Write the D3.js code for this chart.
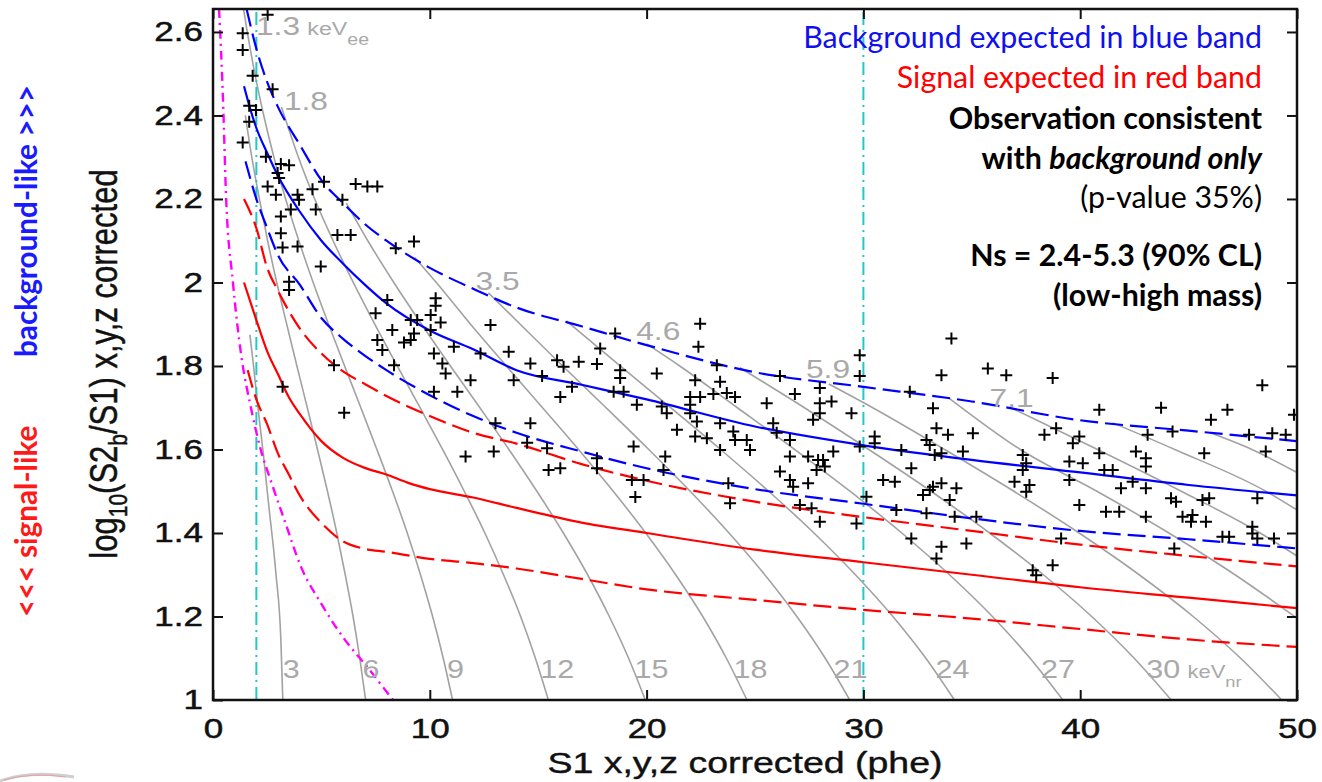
<!DOCTYPE html>
<html>
<head>
<meta charset="utf-8">
<script src="https://cdn.jsdelivr.net/npm/d3@7"></script>
<style>
  body { margin: 0; background: #fff; }
</style>
</head>
<body>
<svg id="chart" width="1322" height="782" font-family="Liberation Sans, Arial, sans-serif"></svg>
<script>
// ---- data (S1 in phe, log10(S2b/S1)) ----
const xTicks = [0, 10, 20, 30, 40, 50];
const yTicks = [1, 1.2, 1.4, 1.6, 1.8, 2, 2.2, 2.4, 2.6];

const blueUpper = [[1.55,2.655],[2,2.56],[2.5,2.48],[3,2.42],[4,2.33],[5,2.245],[6,2.19],[7,2.14],[8,2.10],[10,2.035],[12,1.985],[14,1.94],[17,1.895],[20,1.85],[25,1.785],[30,1.75],[35,1.715],[40,1.67],[45,1.645],[50,1.62]];
const blueMedian = [[1.43,2.47],[1.75,2.41],[2,2.37],[2.5,2.31],[3,2.255],[4,2.17],[5,2.10],[6,2.045],[7,1.995],[8,1.95],[10,1.885],[12,1.84],[14,1.79],[17,1.755],[20,1.72],[25,1.655],[30,1.61],[35,1.575],[40,1.545],[45,1.515],[50,1.49]];
const blueLower = [[1.5,2.29],[2,2.20],[2.5,2.13],[3,2.065],[4,1.995],[5,1.915],[6,1.865],[7,1.825],[8,1.79],[10,1.73],[12,1.68],[14,1.64],[17,1.595],[20,1.555],[25,1.505],[30,1.47],[35,1.435],[40,1.405],[45,1.385],[50,1.363]];

const redUpper = [[1.43,2.20],[2,2.13],[2.5,2.035],[3,1.98],[4,1.89],[5,1.83],[6,1.787],[7,1.757],[8,1.728],[10,1.68],[12,1.64],[14,1.614],[17,1.565],[20,1.525],[25,1.475],[30,1.438],[35,1.405],[40,1.372],[45,1.345],[50,1.32]];
const redMedian = [[1.43,2.00],[2,1.91],[2.5,1.835],[3,1.78],[3.5,1.725],[4,1.685],[4.5,1.65],[5,1.62],[6,1.58],[7,1.556],[8,1.54],[9,1.52],[10,1.505],[12,1.485],[14,1.46],[17,1.425],[20,1.40],[25,1.36],[30,1.33],[35,1.30],[40,1.27],[45,1.245],[50,1.22]];
const redLower = [[1.6,1.79],[2,1.72],[2.5,1.66],[3,1.59],[3.5,1.54],[4,1.49],[5,1.424],[6,1.38],[7,1.362],[8,1.355],[10,1.338],[12,1.328],[14,1.315],[17,1.29],[20,1.265],[25,1.24],[30,1.216],[35,1.195],[40,1.17],[45,1.145],[50,1.127]];

const magentaCut = [[0.28,2.655],[0.46,2.44],[0.6,2.21],[0.92,2.0],[1.29,1.83],[1.75,1.70],[2.2,1.60],[2.7,1.52],[3.3,1.43],[4.05,1.32],[5.0,1.23],[6.0,1.15],[7.1,1.08],[8.3,1.0]];
const s1Window = [2, 30];

const contourNr = [3, 6, 9, 12, 15, 18, 21, 24, 27, 30, 33, 36, 39, 42, 45];
const contourPts = [
  [[1.70,1.875],[1.84,1.814],[2.07,1.702],[2.30,1.599],[2.58,1.462],[2.90,1.304],[3.13,1.144],[3.22,1.0]],
  [[1.49,2.4],[1.79,2.3],[2.14,2.2],[2.52,2.1],[2.94,2.0],[3.40,1.9],[3.87,1.8],[4.35,1.7],[4.82,1.6],[5.28,1.5],[5.71,1.4],[6.10,1.3],[6.46,1.2],[6.77,1.1],[7.04,1.0]],
  [[1.41,2.655],[1.58,2.6],[1.93,2.5],[2.34,2.4],[2.81,2.3],[3.35,2.2],[3.96,2.1],[4.62,2.0],[5.33,1.9],[6.07,1.8],[6.82,1.7],[7.56,1.6],[8.28,1.5],[8.96,1.4],[9.57,1.3],[10.13,1.2],[10.62,1.1],[11.05,1.0]],
  [[3.16,2.42],[3.94,2.3],[4.69,2.2],[5.54,2.1],[6.47,2.0],[7.46,1.9],[8.50,1.8],[9.55,1.7],[10.59,1.6],[11.59,1.5],[12.54,1.4],[13.40,1.3],[14.19,1.2],[14.87,1.1],[15.47,1.0]],
  [[6.15,2.19],[7.14,2.1],[8.34,2.0],[9.62,1.9],[10.95,1.8],[12.31,1.7],[13.65,1.6],[14.94,1.5],[16.16,1.4],[17.28,1.3],[18.28,1.2],[19.17,1.1],[19.94,1.0]],
  [[9.3,2.06],[10.30,2.0],[11.88,1.9],[13.53,1.8],[15.20,1.7],[16.86,1.6],[18.46,1.5],[19.96,1.4],[21.34,1.3],[22.59,1.2],[23.68,1.1],[24.63,1.0]],
  [[12.7,1.975],[14.17,1.9],[16.13,1.8],[18.13,1.7],[20.10,1.6],[22.01,1.5],[23.80,1.4],[25.45,1.3],[26.93,1.2],[28.24,1.1],[29.37,1.0]],
  [[16.3,1.908],[18.78,1.8],[21.11,1.7],[23.41,1.6],[25.63,1.5],[27.72,1.4],[29.63,1.3],[31.36,1.2],[32.88,1.1],[34.2,1.0]],
  [[20.0,1.853],[21.53,1.8],[24.19,1.7],[26.83,1.6],[29.38,1.5],[31.77,1.4],[33.97,1.3],[35.95,1.2],[37.69,1.1],[39.2,1.0]],
  [[24.3,1.796],[27.28,1.7],[30.25,1.6],[33.12,1.5],[35.82,1.4],[38.30,1.3],[40.53,1.2],[42.49,1.1],[44.2,1.0]],
  [[28.4,1.757],[30.43,1.7],[33.75,1.6],[36.94,1.5],[39.95,1.4],[42.72,1.3],[45.21,1.2],[47.40,1.1],[49.3,1.0]],
  [[33.9,1.725],[37.24,1.6],[40.77,1.5],[44.09,1.4],[47.14,1.3],[50,1.196]],
  [[36.8,1.70],[40.80,1.6],[44.66,1.5],[48.30,1.4],[50,1.345]],
  [[41.5,1.664],[44.36,1.6],[48.56,1.5],[50,1.455]],
  [[46.0,1.64],[47.92,1.6],[50,1.545]]
];

// keVee labels and where they sit (S1, log10 ratio at baseline)
const eeLabels = ["1.3", "1.8", "3.5", "4.6", "5.9", "7.1"];
const eeLabelAt = [[1.98,2.593],[3.27,2.413],[12.11,1.982],[19.52,1.862],[27.35,1.771],[35.82,1.702]];
const nrLabeled = [3, 6, 9, 12, 15, 18, 21, 24, 27, 30];

const events = [
  [2.52,2.641],[1.37,2.597],[1.37,2.557],[1.83,2.495],[2.75,2.463],[1.67,2.423],[1.98,2.413],[1.67,2.385],[1.37,2.335],[2.44,2.301],
  [3.13,2.284],[3.51,2.281],[2.98,2.262],[3.05,2.250],[2.52,2.230],[2.90,2.210],[3.90,2.210],[3.97,2.198],[4.59,2.223],[5.12,2.241],
  [3.59,2.175],[4.74,2.175],[3.13,2.158],[5.97,2.198],[6.58,2.236],[7.12,2.230],[7.58,2.230],[3.13,2.118],[5.74,2.114],[6.35,2.114],
  [3.21,2.084],[3.90,2.086],[8.43,2.082],[9.27,2.098],[4.97,2.038],[3.51,2.002],[3.51,1.982],[8.04,1.958],[10.27,1.962],[10.27,1.944],
  [7.50,1.926],[10.04,1.922],[9.12,1.910],[9.42,1.910],[10.50,1.904],[12.80,1.898],[8.27,1.886],[10.04,1.886],[9.27,1.878],[7.58,1.862],
  [8.81,1.856],[9.12,1.862],[7.81,1.838],[10.19,1.830],[11.11,1.846],[12.34,1.830],[13.64,1.834],
  [5.58,1.802],[8.35,1.802],[10.58,1.806],[10.73,1.782],[11.88,1.766],[13.87,1.766],[10.19,1.738],[11.27,1.738],[3.21,1.750],[6.05,1.688],
  [13.03,1.663],[12.95,1.595],[11.65,1.583],
  [22.47,1.901],[22.39,1.846],[18.55,1.878],[17.86,1.842],[17.71,1.805],[16.87,1.810],[15.87,1.814],[16.17,1.798],[14.64,1.806],[15.18,1.776],
  [18.78,1.790],[18.78,1.771],[20.47,1.782],[23.24,1.802],[22.24,1.766],[23.39,1.762],[23.70,1.735],[24.08,1.726],[23.08,1.733],[22.01,1.726],
  [22.47,1.726],[22.01,1.707],[22.01,1.687],[22.32,1.667],[22.24,1.631],[22.78,1.627],[23.39,1.663],[24.00,1.643],[24.08,1.623],[24.62,1.623],
  [24.77,1.599],[23.39,1.599],[25.54,1.711],[26.15,1.776],[26.84,1.733],[27.99,1.747],[27.99,1.711],[28.53,1.715],[27.99,1.687],[27.68,1.671],
  [29.45,1.687],[29.83,1.826],[29.83,1.776],[25.84,1.663],[26.00,1.640],[26.61,1.623],[26.61,1.583],[27.45,1.583],[27.91,1.575],[28.61,1.595],
  [28.22,1.559],[27.84,1.551],[30.52,1.631],[30.52,1.615],[29.83,1.607],[31.75,1.599],[32.21,1.555],[26.15,1.547],[26.61,1.527],[26.76,1.511],
  [27.45,1.519],[28.14,1.575],[30.91,1.527],[31.45,1.523],[31.52,1.455],[30.14,1.487],[29.68,1.423],[32.21,1.387],[27.07,1.467],[27.61,1.459],
  [27.99,1.427],[23.77,1.519],[23.85,1.471],[20.86,1.583],[20.78,1.551],[19.40,1.607],[19.32,1.527],[19.86,1.527],[19.48,1.486],[17.71,1.579],
  [17.71,1.555],[15.48,1.551],[16.02,1.555],[14.64,1.663],[14.49,1.616],[15.41,1.603],[16.56,1.750],[16.02,1.726],[18.48,1.738],[18.94,1.738],
  [19.55,1.707],[20.70,1.703],[20.93,1.687],[21.40,1.647],
  [34.06,1.866],[33.60,1.778],[35.74,1.794],[36.59,1.778],[38.73,1.771],[32.14,1.738],[33.21,1.699],[48.40,1.754],[40.88,1.695],[43.73,1.700],
  [46.79,1.695],[46.03,1.671],[49.86,1.683],[33.37,1.651],[33.90,1.635],[35.05,1.639],[32.91,1.623],[33.06,1.611],[38.35,1.635],[38.89,1.651],
  [39.66,1.615],[39.96,1.631],[43.11,1.635],[44.26,1.643],[47.79,1.635],[48.86,1.639],[49.48,1.635],[33.29,1.587],[33.60,1.591],[34.59,1.595],
  [37.35,1.587],[37.51,1.567],[40.88,1.591],[42.57,1.595],[43.03,1.579],[43.03,1.559],[45.72,1.591],[48.56,1.595],[39.50,1.571],[40.12,1.567],
  [41.11,1.551],[41.50,1.551],[37.35,1.551],[37.66,1.515],[36.97,1.523],[37.51,1.499],[39.50,1.527],[41.88,1.507],[42.42,1.523],[43.03,1.507],
  [44.19,1.483],[44.42,1.475],[45.64,1.479],[45.95,1.483],[48.17,1.483],[33.06,1.503],[33.21,1.511],[33.60,1.519],[34.29,1.507],[33.98,1.479],
  [32.75,1.491],[34.21,1.439],[35.21,1.439],[32.91,1.447],[39.96,1.467],[41.19,1.451],[41.80,1.451],[43.03,1.439],[44.72,1.439],[45.18,1.443],
  [45.11,1.427],[45.80,1.427],[46.56,1.391],[46.87,1.391],[47.94,1.415],[47.94,1.399],[48.17,1.387],[48.94,1.387],[33.60,1.367],[34.75,1.375],
  [33.37,1.339],[39.12,1.387],[44.34,1.363],[37.81,1.311],[37.97,1.299],[38.73,1.323]
];

// ---- layout ----
const svg = d3.select("#chart");
const plot = {left: 213, right: 1297, top: 9, bottom: 700};

const x = d3.scaleLinear().domain([0, 50]).range([plot.left, plot.right]);
const y = d3.scaleLinear().domain([1, 2.655]).range([plot.bottom, plot.top]);

svg.append("defs").append("clipPath").attr("id", "clip")
  .append("rect")
  .attr("x", plot.left).attr("y", plot.top)
  .attr("width", plot.right - plot.left).attr("height", plot.bottom - plot.top);

const g = svg.append("g").attr("clip-path", "url(#clip)");
const line = d3.line().x(d => x(d[0])).y(d => y(d[1])).curve(d3.curveMonotoneX);

// energy contours
g.selectAll("path.contour").data(contourPts).join("path")
  .classed("contour", true)
  .attr("d", line)
  .attr("fill", "none")
  .attr("stroke", "#a2a2a2")
  .attr("stroke-width", 1.6);

// S1 analysis window
g.selectAll("line.window").data(s1Window).join("line")
  .classed("window", true)
  .attr("x1", d => x(d)).attr("x2", d => x(d))
  .attr("y1", y(1)).attr("y2", y(2.655))
  .attr("stroke", "#22c8c8")
  .attr("stroke-width", 2)
  .attr("stroke-dasharray", "13,5,2,5");

// magenta cut
g.append("path").datum(magentaCut)
  .attr("d", line)
  .attr("fill", "none")
  .attr("stroke", "#ff00ff")
  .attr("stroke-width", 2.4)
  .attr("stroke-dasharray", "9,5,2,5");

// bands
const bands = [
  {pts: redLower, color: "#ff0000", dash: "18,7"},
  {pts: redUpper, color: "#ff0000", dash: "18,7"},
  {pts: redMedian, color: "#ff0000", dash: null},
  {pts: blueLower, color: "#0000ff", dash: "18,7"},
  {pts: blueUpper, color: "#0000ff", dash: "18,7"},
  {pts: blueMedian, color: "#0000ff", dash: null}
];
g.selectAll("path.band").data(bands).join("path")
  .classed("band", true)
  .attr("d", d => line(d.pts))
  .attr("fill", "none")
  .attr("stroke", d => d.color)
  .attr("stroke-width", 2.2)
  .attr("stroke-dasharray", d => d.dash);

// events
g.selectAll("path.event").data(events).join("path")
  .classed("event", true)
  .attr("transform", d => `translate(${x(d[0])},${y(d[1])})`)
  .attr("d", "M-6,0H6M0,-6V6")
  .attr("stroke", "#000")
  .attr("stroke-width", 2);

// contour labels
const grey = "#a9a9a9";
function interpS1(pts, v) {
  for (let i = 1; i < pts.length; i++) {
    const a = pts[i - 1], b = pts[i];
    if ((a[1] - v) * (b[1] - v) <= 0) {
      const t = (v - a[1]) / (b[1] - a[1]);
      return a[0] + t * (b[0] - a[0]);
    }
  }
  return pts[pts.length - 1][0];
}
const nrBase = 1.053;
nrLabeled.forEach(nr => {
  const pts = contourPts[contourNr.indexOf(nr)];
  const sx = interpS1(pts, 1.07);
  const t = svg.append("text")
    .attr("transform", `translate(${x(sx) + 1},${y(nrBase)}) scale(1.22,1)`)
    .attr("fill", grey)
    .attr("font-size", 25);
  t.append("tspan").text(nr);
  if (nr === 30) {
    t.append("tspan").attr("font-size", 18).attr("dx", 6).text("keV");
    t.append("tspan").attr("font-size", 15).attr("dy", 9).text("nr");
  }
});
eeLabels.forEach((lab, i) => {
  const t = svg.append("text")
    .attr("transform", `translate(${x(eeLabelAt[i][0])},${y(eeLabelAt[i][1])}) scale(1.22,1)`)
    .attr("fill", grey)
    .attr("font-size", 26);
  t.append("tspan").text(lab);
  if (i === 0) {
    t.append("tspan").attr("font-size", 19).attr("dx", 6).text("keV");
    t.append("tspan").attr("font-size", 16).attr("dy", 10).text("ee");
  }
});

// ---- axes ----
const axisColor = "#111";
function styleAxis(sel) {
  sel.select(".domain").remove();
  sel.selectAll(".tick line").attr("stroke", axisColor).attr("stroke-width", 2);
}
const yAxis = svg.append("g").attr("transform", `translate(${plot.left},0)`)
  .call(d3.axisLeft(y).tickValues(yTicks).tickSize(-10).tickPadding(8).tickFormat(d3.format("~g")));
styleAxis(yAxis);
yAxis.selectAll("text")
  .attr("x", -8)
  .attr("transform", "scale(1.25,1)")
  .attr("font-size", 28)
  .attr("fill", axisColor)
  .attr("stroke", axisColor).attr("stroke-width", 0.5)
  .attr("font-family", "Liberation Sans, Arial, sans-serif");

const xAxis = svg.append("g").attr("transform", `translate(0,${plot.bottom})`)
  .call(d3.axisBottom(x).tickValues(xTicks).tickSize(-10).tickPadding(18).tickFormat(d3.format("~g")));
styleAxis(xAxis);
xAxis.selectAll("text")
  .attr("transform", "scale(1.25,1)")
  .attr("font-size", 28)
  .attr("fill", axisColor)
  .attr("stroke", axisColor).attr("stroke-width", 0.5)
  .attr("font-family", "Liberation Sans, Arial, sans-serif");
xAxis.selectAll(".tick text").attr("x", 0);

const topAxis = svg.append("g").attr("transform", `translate(0,${plot.top})`)
  .call(d3.axisTop(x).tickValues(xTicks).tickSize(-10).tickFormat(""));
styleAxis(topAxis);
const rightAxis = svg.append("g").attr("transform", `translate(${plot.right},0)`)
  .call(d3.axisRight(y).tickValues(yTicks).tickSize(-10).tickFormat(""));
styleAxis(rightAxis);

svg.append("rect")
  .attr("x", plot.left).attr("y", plot.top)
  .attr("width", plot.right - plot.left).attr("height", plot.bottom - plot.top)
  .attr("fill", "none").attr("stroke", axisColor).attr("stroke-width", 2.5);

// axis titles
svg.append("text")
  .attr("transform", `translate(${(plot.left + plot.right) / 2 - 10},773) scale(1.25,1)`)
  .attr("text-anchor", "middle")
  .attr("font-size", 30)
  .attr("fill", axisColor)
  .attr("stroke", axisColor).attr("stroke-width", 0.4)
  .text("S1 x,y,z corrected (phe)");

const yt = svg.append("text")
  .attr("transform", "translate(117,364) rotate(-90) scale(1,1.25)")
  .attr("text-anchor", "middle")
  .attr("font-size", 31)
  .attr("fill", axisColor)
  .attr("stroke", axisColor).attr("stroke-width", 0.4);
yt.append("tspan").text("log");
yt.append("tspan").attr("font-size", 21).attr("dy", 8).text("10");
yt.append("tspan").attr("dy", -8).text("(S2");
yt.append("tspan").attr("font-size", 21).attr("dy", 8).text("b");
yt.append("tspan").attr("dy", -8).text("/S1) x,y,z corrected");

// ---- slide annotations ----
function fitWidth(sel, target) {
  const w = sel.node().getComputedTextLength();
  const fs = parseFloat(sel.attr("font-size"));
  sel.attr("font-size", fs * target / w);
  return fs * target / w;
}
const note = "Lato, 'Open Sans', sans-serif";

const bgLike = svg.append("text")
  .attr("transform", "translate(37,357) rotate(-90)")
  .attr("font-family", note).attr("font-weight", 700)
  .attr("font-size", 26).attr("fill", "#1a1aff")
  .text("background-like >>>");
const sideSize = fitWidth(bgLike, 272);
svg.append("text")
  .attr("transform", "translate(37,617) rotate(-90)")
  .attr("font-family", note).attr("font-weight", 700)
  .attr("font-size", sideSize).attr("fill", "#ff1a1a")
  .text("<<< signal-like");

const noteX = 1262;
const l1 = svg.append("text")
  .attr("x", noteX).attr("y", 48).attr("text-anchor", "end")
  .attr("font-family", note).attr("font-size", 28).attr("fill", "#1010ee")
  .text("Background expected in blue band");
const fs = fitWidth(l1, 459);

svg.append("text")
  .attr("x", noteX).attr("y", 88).attr("text-anchor", "end")
  .attr("font-family", note).attr("font-size", fs).attr("fill", "#ff0000")
  .text("Signal expected in red band");
svg.append("text")
  .attr("x", noteX).attr("y", 129).attr("text-anchor", "end")
  .attr("font-family", note).attr("font-size", fs).attr("font-weight", 700).attr("fill", "#000")
  .text("Observation consistent");
const l4 = svg.append("text")
  .attr("x", noteX).attr("y", 169).attr("text-anchor", "end")
  .attr("font-family", note).attr("font-size", fs).attr("font-weight", 700).attr("fill", "#000");
l4.append("tspan").text("with ");
l4.append("tspan").attr("font-style", "italic").text("background only");
svg.append("text")
  .attr("x", noteX).attr("y", 208).attr("text-anchor", "end")
  .attr("font-family", note).attr("font-size", fs).attr("fill", "#000")
  .text("(p-value 35%)");
svg.append("text")
  .attr("x", noteX).attr("y", 266).attr("text-anchor", "end")
  .attr("font-family", note).attr("font-size", fs).attr("font-weight", 700).attr("fill", "#000")
  .text("Ns = 2.4-5.3 (90% CL)");
svg.append("text")
  .attr("x", noteX).attr("y", 306).attr("text-anchor", "end")
  .attr("font-family", note).attr("font-size", fs).attr("font-weight", 700).attr("fill", "#000")
  .text("(low-high mass)");

// faint slide decoration at the lower-left corner
svg.append("path")
  .attr("d", "M0,781 Q30,770 74,777")
  .attr("fill", "none").attr("stroke", "#cfcfcf").attr("stroke-width", 3);
svg.append("path")
  .attr("d", "M4,780 Q32,772 66,777")
  .attr("fill", "none").attr("stroke", "#e7a0a0").attr("stroke-width", 1);
</script>
</body>
</html>
